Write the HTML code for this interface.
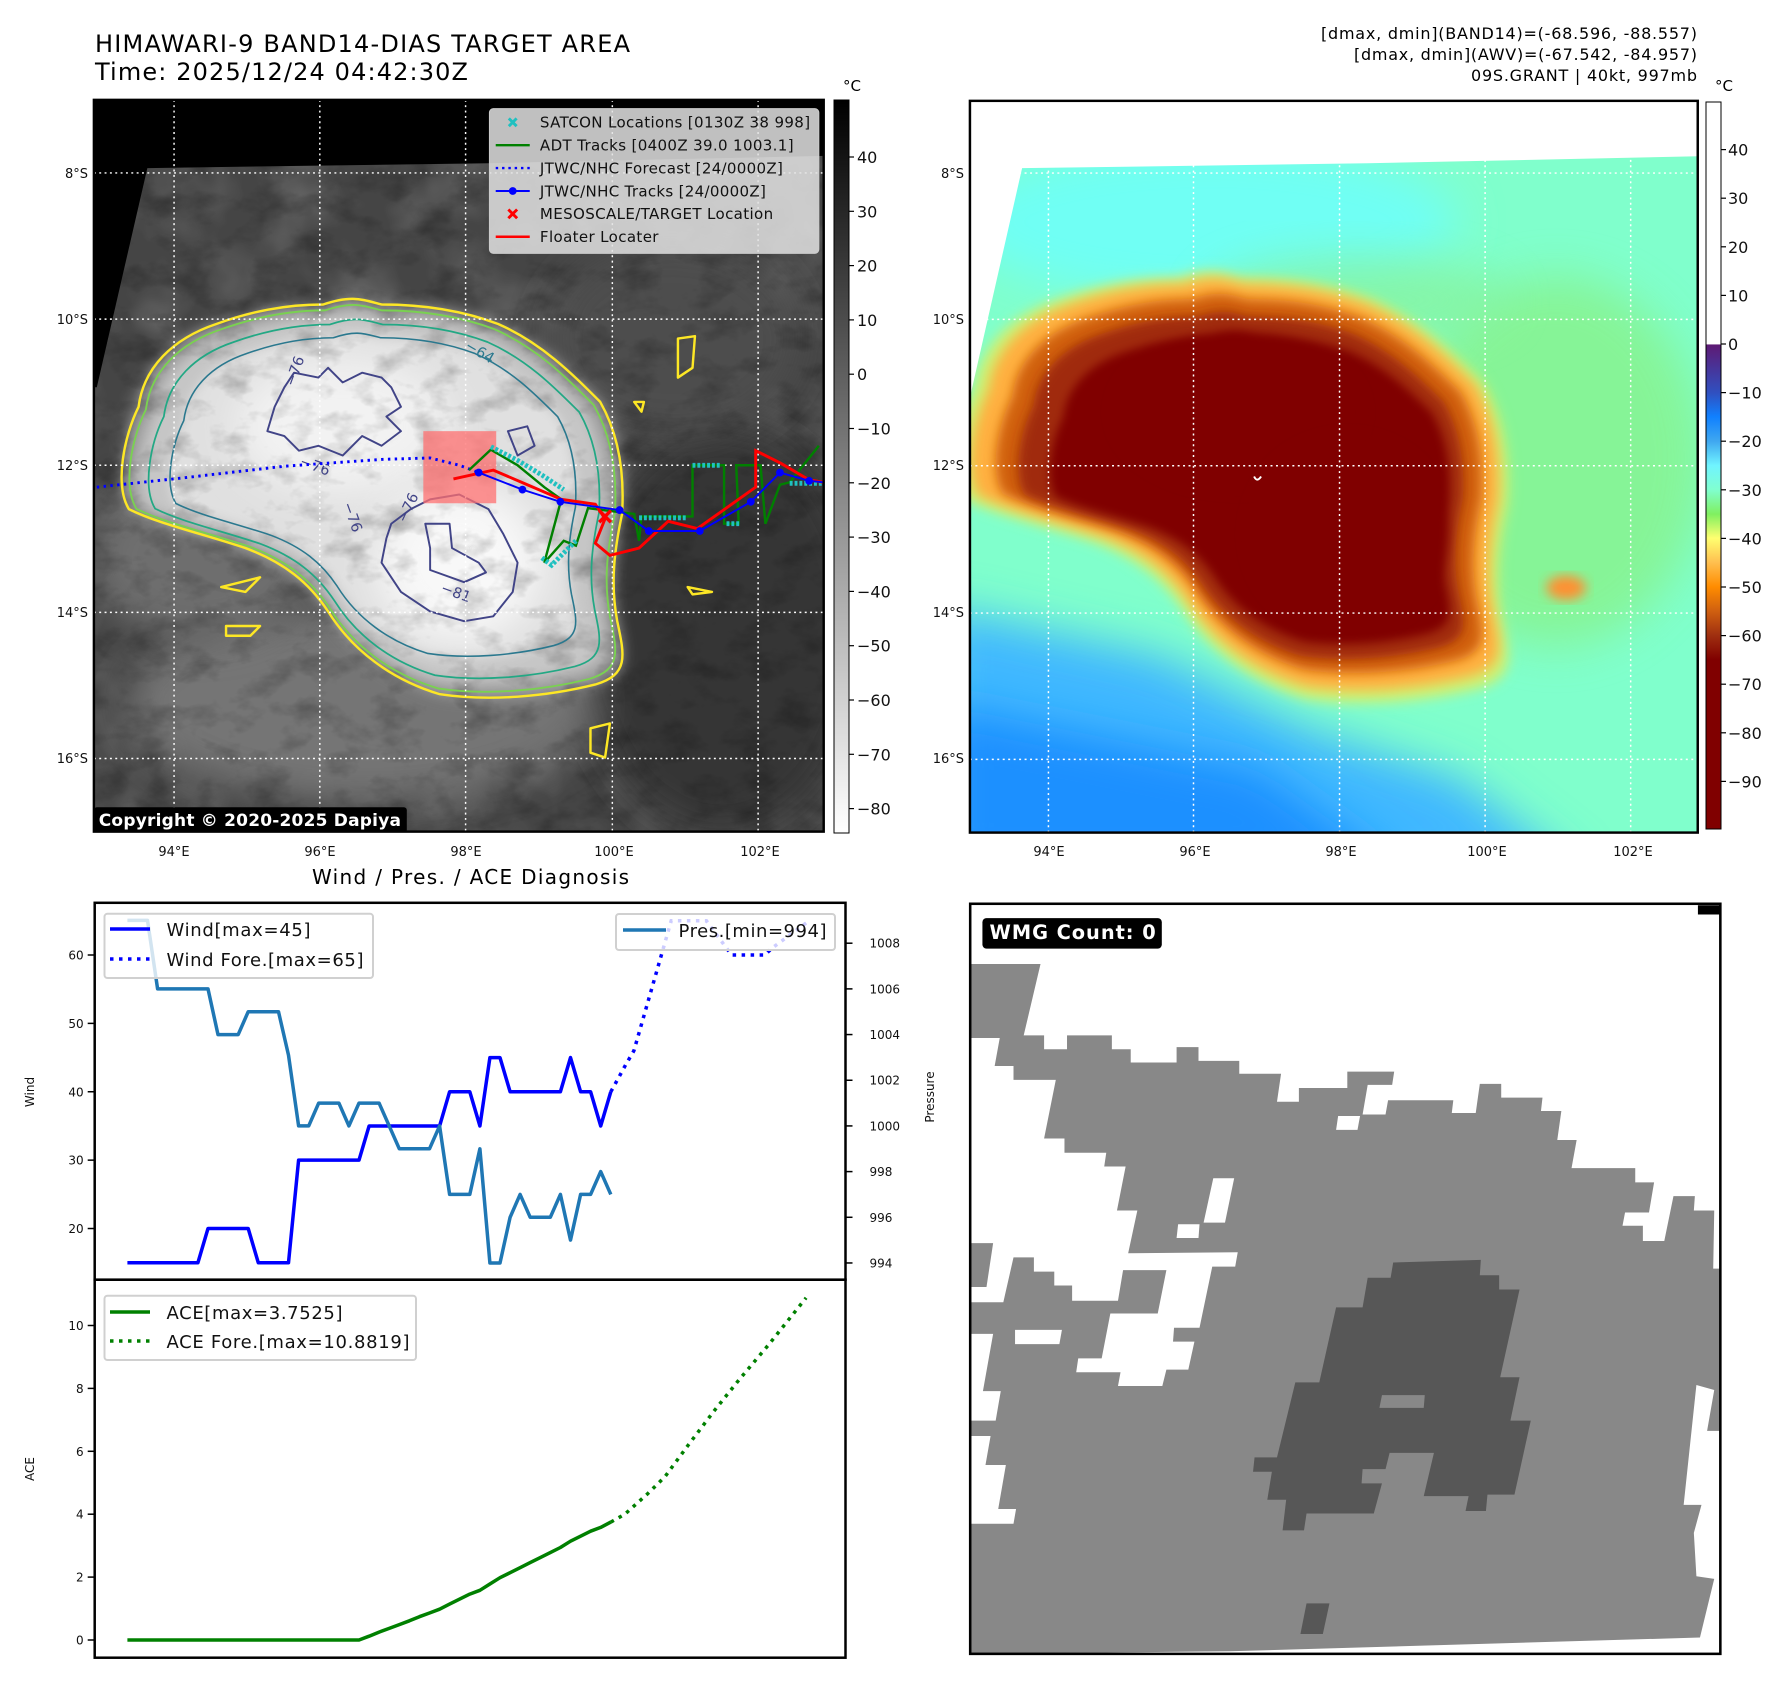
<!DOCTYPE html>
<html><head><meta charset="utf-8">
<style>
html,body{margin:0;padding:0;background:#fff;}
svg text{font-family:"DejaVu Sans","Liberation Sans",sans-serif;}
</style></head>
<body>
<svg id="root" width="1788" height="1690" viewBox="0 0 1788 1690" xmlns="http://www.w3.org/2000/svg">
<rect width="1788" height="1690" fill="#fff"/>

<!-- Titles -->
<text x="95" y="52" font-size="24" textLength="535">HIMAWARI-9 BAND14-DIAS TARGET AREA</text>
<text x="95" y="80" font-size="24" textLength="373">Time: 2025/12/24 04:42:30Z</text>
<g font-size="16" text-anchor="end">
<text x="1697" y="39" textLength="376">[dmax, dmin](BAND14)=(-68.596, -88.557)</text>
<text x="1697" y="60" textLength="343">[dmax, dmin](AWV)=(-67.542, -84.957)</text>
<text x="1697" y="81" textLength="226">09S.GRANT | 40kt, 997mb</text>
</g>

<!-- ============ LEFT MAP ============ -->
<svg x="90" y="95" width="758" height="760" viewBox="0 0 1560 1560" preserveAspectRatio="none">
<defs>
<clipPath id="lclip"><rect x="8" y="10" width="1502" height="1502"/></clipPath>
<filter id="b20" x="-30%" y="-30%" width="160%" height="160%"><feGaussianBlur stdDeviation="14"/></filter>
<filter id="b40" x="-40%" y="-40%" width="180%" height="180%"><feGaussianBlur stdDeviation="40"/></filter>
<filter id="noise"><feTurbulence type="fractalNoise" baseFrequency="0.008" numOctaves="3" seed="4"/><feColorMatrix type="matrix" values="0 0 0 0 1  0 0 0 0 1  0 0 0 0 1  0.9 0 0 0 -0.35"/></filter>
<filter id="dnoise"><feTurbulence type="fractalNoise" baseFrequency="0.012 0.02" numOctaves="4" seed="9"/><feColorMatrix type="matrix" values="0 0 0 0 0  0 0 0 0 0  0 0 0 0 0  -1.6 0 0 0 0.85"/></filter>
<path id="cY" d="M100,640 C110,560 170,500 260,470 C330,445 400,430 480,430 C540,410 560,420 600,430 C680,430 760,440 840,470 C930,510 990,570 1050,630 C1090,700 1100,780 1095,860 C1080,930 1070,1000 1085,1080 C1100,1150 1110,1190 1040,1210 C940,1235 820,1245 720,1230 C620,1200 540,1140 490,1060 C450,1000 400,960 320,930 C230,900 140,880 80,850 C50,800 70,700 100,640 Z"/>
</defs>
<g clip-path="url(#lclip)">
<rect x="0" y="0" width="1560" height="1560" fill="#454545"/>
<rect x="0" y="0" width="1560" height="1560" filter="url(#noise)" opacity="0.35"/>
<ellipse cx="1300" cy="1100" rx="300" ry="420" fill="#363636" filter="url(#b40)"/>
<ellipse cx="1200" cy="500" rx="260" ry="200" fill="#4e4e4e" filter="url(#b40)"/>
<ellipse cx="560" cy="1250" rx="480" ry="200" fill="#747474" filter="url(#b40)"/>
<ellipse cx="230" cy="950" rx="230" ry="170" fill="#6e6e6e" filter="url(#b40)"/>
<use href="#cY" fill="#a0a0a0" filter="url(#b20)"/>
<use href="#cY" fill="#c6c6c6" filter="url(#b20)" transform="translate(40,56) scale(0.93)"/>
<use href="#cY" fill="#e0e0e0" filter="url(#b20)" transform="translate(112,150) scale(0.81)"/>
<ellipse cx="520" cy="680" rx="220" ry="140" fill="#f2f2f2" filter="url(#b40)"/>
<ellipse cx="760" cy="960" rx="170" ry="160" fill="#f8f8f8" filter="url(#b40)"/>
<rect x="0" y="0" width="1560" height="1560" filter="url(#dnoise)" opacity="0.35"/>
<polygon points="0,0 1560,0 1560,124 820,140 118,150 14,600 0,600" fill="#000"/>
<g fill="none" stroke-linejoin="round">
<use href="#cY" stroke="#fde725" stroke-width="5"/>
<use href="#cY" stroke="#7ad151" stroke-width="4" transform="translate(18,25) scale(0.97)"/>
<use href="#cY" stroke="#22a884" stroke-width="4" transform="translate(62,84) scale(0.9)"/>
<use href="#cY" stroke="#2a788e" stroke-width="4" transform="translate(112,150) scale(0.81)"/>
<path d="M365,690 L380,640 L400,600 L420,570 L470,580 L490,560 L520,590 L560,570 L600,580 L620,600 L640,640 L610,660 L640,690 L600,720 L560,700 L520,740 L470,720 L430,730 L400,700 Z" stroke="#414487" stroke-width="4"/>
<path d="M620,880 L660,850 L700,830 L760,820 L820,850 L850,900 L880,960 L870,1020 L830,1070 L770,1080 L700,1060 L640,1020 L600,960 L610,910 Z" stroke="#414487" stroke-width="4"/>
<path d="M690,880 L740,880 L745,930 L800,960 L815,980 L770,1000 L700,975 L700,930 Z" stroke="#414487" stroke-width="4"/>
<path d="M860,690 L900,680 L915,720 L880,740 Z" stroke="#414487" stroke-width="4"/>
<path d="M1210,500 L1245,495 L1240,560 L1210,580 Z" stroke="#fde725" stroke-width="5"/>
<path d="M1120,630 L1140,630 L1135,650 Z" stroke="#fde725" stroke-width="5"/>
<path d="M1230,1010 L1280,1020 L1240,1025 Z" stroke="#fde725" stroke-width="5"/>
<path d="M1030,1300 L1070,1290 L1060,1360 L1030,1350 Z" stroke="#fde725" stroke-width="5"/>
<path d="M270,1010 L350,990 L320,1020 Z" stroke="#fde725" stroke-width="5"/>
<path d="M280,1090 L350,1090 L330,1110 L280,1110 Z" stroke="#fde725" stroke-width="5"/>
</g>
<g font-size="30" fill="#414487">
<text x="770" y="520" fill="#2a788e" transform="rotate(30 770 520)">−64</text>
<text x="420" y="600" transform="rotate(-70 420 600)">−76</text>
<text x="430" y="760" transform="rotate(20 430 760)">−76</text>
<text x="520" y="840" transform="rotate(70 520 840)">−76</text>
<text x="650" y="880" transform="rotate(-65 650 880)">−76</text>
<text x="720" y="1020" transform="rotate(20 720 1020)">−81</text>
</g>
<g stroke="#fff" stroke-width="3" stroke-dasharray="4,7">
<line x1="173" y1="10" x2="173" y2="1512"/><line x1="473" y1="10" x2="473" y2="1512"/><line x1="773" y1="10" x2="773" y2="1512"/><line x1="1075" y1="10" x2="1075" y2="1512"/><line x1="1375" y1="10" x2="1375" y2="1512"/>
<line x1="8" y1="160" x2="1510" y2="160"/><line x1="8" y1="460" x2="1510" y2="460"/><line x1="8" y1="760" x2="1510" y2="760"/><line x1="8" y1="1062" x2="1510" y2="1062"/><line x1="8" y1="1362" x2="1510" y2="1362"/>
</g>
<rect x="686" y="690" width="150" height="148" fill="#ff7070" opacity="0.75"/>
<polyline points="14,805 200,785 400,762 600,748 700,745 760,760 800,775" fill="none" stroke="#0000ff" stroke-width="6" stroke-dasharray="5,9"/>
<polyline points="780,770 825,728 880,760 935,805 970,830 935,960 975,915 1000,925 1025,848 1120,860 1130,915 1135,865 1240,865 1240,760 1305,760 1305,880 1335,880 1330,760 1380,760 1390,880 1420,800 1440,795 1500,720" fill="none" stroke="#008000" stroke-width="5"/>
<g stroke="#20c0c0" stroke-width="5">
<polyline points="825,722 880,750 930,780 975,810" fill="none" stroke-dasharray="6,4" stroke-width="10"/>
<polyline points="1130,868 1230,868" fill="none" stroke-dasharray="6,4" stroke-width="10"/>
<polyline points="1240,760 1300,760" fill="none" stroke-dasharray="6,4" stroke-width="10"/>
<polyline points="1310,880 1340,880" fill="none" stroke-dasharray="6,4" stroke-width="10"/>
<polyline points="1440,797 1510,797" fill="none" stroke-dasharray="6,4" stroke-width="10"/>
<polyline points="930,950 950,965 1000,915" fill="none" stroke-dasharray="6,4" stroke-width="10"/>
</g>
<polyline points="748,788 830,770 900,800 970,830 1040,840 1060,870 1040,920 1070,945 1130,930 1190,875 1250,890 1370,805 1370,730 1420,755 1480,790 1510,795" fill="none" stroke="#ff0000" stroke-width="6"/>
<polyline points="800,775 890,810 968,835 1090,852 1150,895 1255,895 1360,835 1420,775 1480,792 1510,795" fill="none" stroke="#0000ff" stroke-width="4"/>
<g fill="#0000ff"><circle cx="800" cy="775" r="8"/><circle cx="890" cy="810" r="8"/><circle cx="968" cy="835" r="8"/><circle cx="1090" cy="852" r="8"/><circle cx="1150" cy="895" r="8"/><circle cx="1255" cy="895" r="8"/><circle cx="1360" cy="835" r="8"/><circle cx="1420" cy="775" r="8"/><circle cx="1480" cy="792" r="8"/></g>
<g stroke="#ff0000" stroke-width="7"><line x1="1048" y1="853" x2="1072" y2="877"/><line x1="1072" y1="853" x2="1048" y2="877"/></g>
<g>
<rect x="822" y="28" width="678" height="297" rx="8" fill="#e2e2e2" fill-opacity="0.85" stroke="#cccccc" stroke-width="2"/>
<g stroke="#20c0c0" stroke-width="6"><line x1="862" y1="48" x2="878" y2="64"/><line x1="878" y1="48" x2="862" y2="64"/></g>
<line x1="835" y1="103" x2="905" y2="103" stroke="#008000" stroke-width="5"/>
<line x1="835" y1="150" x2="905" y2="150" stroke="#0000ff" stroke-width="5" stroke-dasharray="5,8"/>
<line x1="835" y1="197" x2="905" y2="197" stroke="#0000ff" stroke-width="4"/><circle cx="870" cy="197" r="8" fill="#0000ff"/>
<g stroke="#ff0000" stroke-width="6"><line x1="861" y1="235" x2="879" y2="253"/><line x1="879" y1="235" x2="861" y2="253"/></g>
<line x1="835" y1="291" x2="905" y2="291" stroke="#ff0000" stroke-width="5"/>
<g font-size="31" fill="#111">
<text x="926" y="67" textLength="556">SATCON Locations [0130Z 38 998]</text>
<text x="926" y="114" textLength="522">ADT Tracks [0400Z 39.0 1003.1]</text>
<text x="926" y="161" textLength="500">JTWC/NHC Forecast [24/0000Z]</text>
<text x="926" y="208" textLength="465">JTWC/NHC Tracks [24/0000Z]</text>
<text x="926" y="255" textLength="480">MESOSCALE/TARGET Location</text>
<text x="926" y="302" textLength="244">Floater Locater</text>
</g>
</g>
<rect x="8" y="1462" width="644" height="55" rx="6" fill="#000"/>
<text x="18" y="1500" font-size="35" font-weight="bold" fill="#fff" textLength="622">Copyright © 2020-2025 Dapiya</text>
</g>
<rect x="8" y="10" width="1502" height="1502" fill="none" stroke="#000" stroke-width="5"/>
</svg>

<!-- colorbars -->
<defs>
<linearGradient id="gbar" x1="0" y1="0" x2="0" y2="1"><stop offset="0" stop-color="#000"/><stop offset="1" stop-color="#fff"/></linearGradient>
<linearGradient id="cbar" x1="0" y1="0" x2="0" y2="1">
<stop offset="0" stop-color="#fff"/><stop offset="0.333" stop-color="#fff"/><stop offset="0.334" stop-color="#5e1a74"/><stop offset="0.4" stop-color="#3050c0"/><stop offset="0.433" stop-color="#1080ff"/><stop offset="0.467" stop-color="#40a8f0"/><stop offset="0.5" stop-color="#70f4ff"/><stop offset="0.533" stop-color="#80ffd0"/><stop offset="0.567" stop-color="#80f060"/><stop offset="0.6" stop-color="#ffff70"/><stop offset="0.633" stop-color="#ffc050"/><stop offset="0.667" stop-color="#ff8c00"/><stop offset="0.7" stop-color="#d06010"/><stop offset="0.733" stop-color="#a03010"/><stop offset="0.767" stop-color="#800000"/><stop offset="1" stop-color="#800000"/>
</linearGradient>
</defs>
<rect x="834" y="100" width="15" height="733" fill="url(#gbar)" stroke="#000" stroke-width="1"/>
<text x="843" y="91" font-size="15">°C</text>
<g id="lcbticks" font-size="16"></g>
<rect x="1706" y="102" width="15" height="727" fill="url(#cbar)" stroke="#000" stroke-width="1"/>
<text x="1715" y="91" font-size="15">°C</text>
<g id="rcbticks" font-size="16"></g>

<!-- map axis labels -->
<g font-size="13" fill="#111">
<g text-anchor="end"><text x="88" y="178">8°S</text><text x="88" y="324">10°S</text><text x="88" y="470">12°S</text><text x="88" y="617">14°S</text><text x="88" y="763">16°S</text>
<text x="964" y="178">8°S</text><text x="964" y="324">10°S</text><text x="964" y="470">12°S</text><text x="964" y="617">14°S</text><text x="964" y="763">16°S</text></g>
<g text-anchor="middle"><text x="174" y="856">94°E</text><text x="320" y="856">96°E</text><text x="466" y="856">98°E</text><text x="614" y="856">100°E</text><text x="760" y="856">102°E</text>
<text x="1049" y="856">94°E</text><text x="1195" y="856">96°E</text><text x="1341" y="856">98°E</text><text x="1487" y="856">100°E</text><text x="1633" y="856">102°E</text></g>
</g>

<!-- ============ RIGHT MAP ============ -->
<svg x="960" y="95" width="775" height="761" viewBox="0 0 1560 1560" preserveAspectRatio="none">
<defs>
<clipPath id="rclip"><rect x="20" y="12" width="1465" height="1500"/></clipPath>
<filter id="rb12" x="-20%" y="-20%" width="140%" height="140%"><feGaussianBlur stdDeviation="12"/></filter>
<filter id="rb40" x="-40%" y="-40%" width="180%" height="180%"><feGaussianBlur stdDeviation="45"/></filter>
<path id="rY" d="M100,640 C110,560 170,500 260,470 C330,445 400,430 480,430 C540,410 560,420 600,430 C680,430 760,440 840,470 C930,510 990,570 1050,630 C1090,700 1100,780 1095,860 C1080,930 1070,1000 1085,1080 C1100,1150 1110,1190 1040,1210 C940,1235 820,1245 720,1230 C620,1200 540,1140 490,1060 C450,1000 400,960 320,930 C230,900 140,880 80,850 C50,800 70,700 100,640 Z"/>
</defs>
<g clip-path="url(#rclip)">
<rect width="1560" height="1560" fill="#80ffcc"/>
<ellipse cx="500" cy="260" rx="500" ry="160" fill="#70fff4" filter="url(#rb40)"/>
<ellipse cx="1200" cy="750" rx="300" ry="380" fill="#88f28a" filter="url(#rb40)" opacity="0.8"/>
<ellipse cx="800" cy="420" rx="300" ry="90" fill="#88f29a" filter="url(#rb40)" opacity="0.7"/>
<polygon points="-40,1050 400,1150 700,1300 1000,1400 1250,1600 -40,1600" fill="#40b8ff" filter="url(#rb40)"/>
<polygon points="-40,1250 600,1380 900,1600 -40,1600" fill="#1e90ff" filter="url(#rb40)"/>
<g transform="translate(-20,-30)">
<use href="#rY" fill="#d0f070" filter="url(#rb12)" transform="translate(-60,-60) scale(1.08)"/>
<use href="#rY" fill="#ffb040" filter="url(#rb12)" transform="translate(-25,-25) scale(1.03)"/>
<use href="#rY" fill="#d06010" filter="url(#rb12)" transform="translate(30,40) scale(0.95)"/>
<use href="#rY" fill="#a02c08" filter="url(#rb12)" transform="translate(80,110) scale(0.87)"/>
<use href="#rY" fill="#800000" filter="url(#rb12)" transform="translate(150,190) scale(0.78)"/>
</g>
<ellipse cx="560" cy="650" rx="250" ry="160" fill="#800000" filter="url(#rb12)"/>
<ellipse cx="780" cy="900" rx="200" ry="200" fill="#800000" filter="url(#rb12)"/>
<ellipse cx="1220" cy="1010" rx="40" ry="25" fill="#ff9030" filter="url(#rb12)"/>
<path d="M592,782 Q598,795 606,782" fill="none" stroke="#fff" stroke-width="4"/>
<polygon points="0,0 1560,0 1560,124 820,140 125,150 20,620 0,620" fill="#fff"/>
<g stroke="#fff" stroke-width="3" stroke-dasharray="4,7">
<line x1="178" y1="12" x2="178" y2="1512"/><line x1="470" y1="12" x2="470" y2="1512"/><line x1="764" y1="12" x2="764" y2="1512"/><line x1="1057" y1="12" x2="1057" y2="1512"/><line x1="1350" y1="12" x2="1350" y2="1512"/>
<line x1="20" y1="160" x2="1485" y2="160"/><line x1="20" y1="460" x2="1485" y2="460"/><line x1="20" y1="760" x2="1485" y2="760"/><line x1="20" y1="1062" x2="1485" y2="1062"/><line x1="20" y1="1362" x2="1485" y2="1362"/>
</g>
</g>
<rect x="20" y="12" width="1465" height="1500" fill="none" stroke="#000" stroke-width="5"/>
</svg>

<!-- ============ WMG PANEL ============ -->
<svg x="960" y="890" width="795" height="796" viewBox="0 0 1560 1560" preserveAspectRatio="none">
<rect x="20" y="27" width="1472" height="1470" fill="#fff"/>
<polygon fill="#888" points="20,145 158,145 125,285 165,285 165,312 210,312 210,285 298,285 298,312 335,312 335,338 425,338 425,308 468,308 468,335 548,335 548,360 630,360 622,415 665,415 665,388 760,388 760,356 852,356 848,382 800,382 790,440 835,440 840,412 968,412 965,437 1012,437 1020,380 1062,380 1062,407 1143,407 1140,433 1180,433 1172,490 1210,490 1200,545 1325,545 1325,573 1362,573 1352,632 1305,632 1300,658 1340,658 1340,688 1382,688 1400,600 1442,600 1440,628 1480,628 1478,742 1492,742 1492,1060 1466,1060 1480,980 1445,970 1420,1205 1455,1205 1440,1260 1445,1345 1480,1350 1452,1465 530,1492 20,1497"/>
<polygon fill="#fff" points="20,290 78,290 68,345 105,345 105,372 188,372 165,487 205,487 205,515 287,515 283,542 325,542 308,628 348,628 330,712 545,710 540,738 495,738 470,858 420,858 418,885 460,885 448,940 405,940 397,972 310,972 315,945 228,945 232,918 278,918 295,830 388,830 405,745 320,745 310,805 220,805 220,775 185,775 185,748 145,748 145,720 105,720 85,808 20,808"/>
<polygon fill="#888" points="20,692 65,692 52,778 20,778"/>
<polygon fill="#fff" points="108,862 200,862 195,890 108,890"/>
<polygon fill="#fff" points="20,870 65,870 45,982 80,982 70,1040 20,1040"/>
<polygon fill="#fff" points="20,1070 60,1070 50,1127 90,1127 75,1213 110,1213 105,1242 20,1242"/>
<polygon fill="#fff" points="428,655 470,655 468,682 425,682"/>
<polygon fill="#fff" points="497,565 538,565 520,652 478,652"/>
<polygon fill="#fff" points="742,443 785,443 780,470 738,470"/>
<polygon fill="#575757" points="850,730 1022,725 1020,755 1058,755 1058,783 1098,783 1060,955 1098,955 1080,1040 1120,1040 1088,1185 1035,1185 1032,1217 992,1217 998,1188 910,1188 930,1103 843,1103 835,1135 790,1135 788,1163 828,1163 812,1222 680,1222 675,1255 633,1255 640,1195 603,1195 612,1140 575,1140 578,1112 622,1112 658,965 705,965 738,818 790,818 800,760 845,760"/>
<polygon fill="#888" points="828,990 912,990 910,1015 823,1015"/>
<polygon fill="#575757" points="680,1398 725,1398 712,1458 668,1458"/>
<polygon fill="#000" points="1448,30 1492,30 1492,48 1448,48"/>
<rect x="20" y="27" width="1472" height="1470" fill="none" stroke="#000" stroke-width="5"/>
<rect x="44" y="55" width="352" height="60" rx="8" fill="#000"/>
<text x="58" y="96" font-size="38" font-weight="bold" fill="#fff" textLength="326">WMG Count: 0</text>
</svg>

<!-- ============ WIND / PRES / ACE ============ -->
<text x="312" y="884" font-size="20" textLength="317">Wind / Pres. / ACE Diagnosis</text>
<g id="chart"></g>
</svg>

<script>
// ---- data ----
const windObs = [15,15,15,15,15,15,15,15,20,20,20,20,20,15,15,15,15,30,30,30,30,30,30,30,35,35,35,35,35,35,35,35,40,40,40,35,45,45,40,40,40,40,40,40,45,40,40,35,40];
const presObs = [1009,1009,1009,1006,1006,1006,1006,1006,1006,1004,1004,1004,1005,1005,1005,1005,1003.1,1000,1000,1001,1001,1001,1000,1001,1001,1001,1000,999,999,999,999,1000,997,997,997,999,994,994,996,997,996,996,996,997,995,997,997,998,997];
const windFcIdx = [48,49.5,50.3,54,57.5,60,63.3,64,67.7];
const windFc = [40,44,46,65,65,60,60,61,65];
const aceObs = [0,0,0,0,0,0,0,0,0,0,0,0,0,0,0,0,0,0,0,0,0,0,0,0,0.12,0.25,0.37,0.49,0.61,0.74,0.86,0.98,1.14,1.30,1.46,1.58,1.78,1.98,2.14,2.30,2.46,2.62,2.78,2.94,3.14,3.30,3.46,3.58,3.75];
const aceFcIdx = [48,49.4,51.7,53.4,55.7,58.3,60.8,63.7,67.4];
const aceFc = [3.75,4.0,4.66,5.2,6.2,7.3,8.3,9.4,10.88];
const windTicks = [20,30,40,50,60];
const presTicks = [994,996,998,1000,1002,1004,1006,1008];
const aceTicks = [0,2,4,6,8,10];
const irTicks = [40,30,20,10,0,-10,-20,-30,-40,-50,-60,-70,-80];
const awvTicks = [40,30,20,10,0,-10,-20,-30,-40,-50,-60,-70,-80,-90];

const NS = "http://www.w3.org/2000/svg";
const xS = i => 127.4 + i * 10.07;
const yW = v => 955.0 + (60 - v) * 6.838;
const yP = p => 943.2 + (1008 - p) * 22.84;
const yA = a => 1640.0 - a * 31.45;
const L = 94.7, R = 845.5, T = 902.8, M = 1279.7, B = 1657.7;

function mk(tag, attrs, parent) {
  const e = document.createElementNS(NS, tag);
  for (const k in attrs) e.setAttribute(k, attrs[k]);
  parent.appendChild(e);
  return e;
}
function txt(parent, x, y, s, size, anchor) {
  const t = mk('text', {x: x, y: y, 'font-size': size, 'text-anchor': anchor || 'start', fill: '#111'}, parent);
  t.textContent = s;
  return t;
}
function pts(idx, vals, yf) { return vals.map((v, k) => xS(idx ? idx[k] : k).toFixed(1) + ',' + yf(v).toFixed(1)).join(' '); }

const chart = document.getElementById('chart');
let f1 = mk('rect', {x: L, y: T, width: R - L, height: M - T, fill: 'none', stroke: '#000', 'stroke-width': 2.5}, chart);


let f2 = mk('rect', {x: L, y: M, width: R - L, height: B - M, fill: 'none', stroke: '#000', 'stroke-width': 2.5}, chart);



windTicks.forEach(v => {
  const g = mk('g', {}, chart);
  
  
  mk('line', {x1: L - 7, x2: L, y1: yW(v), y2: yW(v), stroke: '#000', 'stroke-width': 1.5}, g);
  txt(g, L - 11, yW(v) + 4.5, String(v), 12, 'end');
});
presTicks.forEach(v => {
  const g = mk('g', {}, chart);
  
  
  mk('line', {x1: R, x2: R + 7, y1: yP(v), y2: yP(v), stroke: '#000', 'stroke-width': 1.5}, g);
  txt(g, R + 24, yP(v) + 4.5, String(v), 12, 'start');
});
aceTicks.forEach(v => {
  const g = mk('g', {}, chart);
  
  
  mk('line', {x1: L - 7, x2: L, y1: yA(v), y2: yA(v), stroke: '#000', 'stroke-width': 1.5}, g);
  txt(g, L - 11, yA(v) + 4.5, String(v), 12, 'end');
});
let wl = txt(chart, 34, 1092, 'Wind', 12, 'middle');
wl.setAttribute('transform', 'rotate(-90 34 1092)');


let pl = txt(chart, 934, 1097, 'Pressure', 12, 'middle');
pl.setAttribute('transform', 'rotate(-90 934 1097)');


let al = txt(chart, 34, 1469, 'ACE', 12, 'middle');
al.setAttribute('transform', 'rotate(-90 34 1469)');



let wfc = mk('polyline', {points: pts(windFcIdx, windFc, yW), fill: 'none', stroke: '#0000ff', 'stroke-width': 3.5, 'stroke-dasharray': '3.5,5.5'}, chart);


let wob = mk('polyline', {points: pts(null, windObs, yW), fill: 'none', stroke: '#0000ff', 'stroke-width': 3.5, 'stroke-linejoin': 'round'}, chart);


let pob = mk('polyline', {points: pts(null, presObs, yP), fill: 'none', stroke: '#1f77b4', 'stroke-width': 3.5, 'stroke-linejoin': 'round'}, chart);


let afc = mk('polyline', {points: pts(aceFcIdx, aceFc, yA), fill: 'none', stroke: '#008000', 'stroke-width': 3.5, 'stroke-dasharray': '3.5,5.5'}, chart);


let aob = mk('polyline', {points: pts(null, aceObs, yA), fill: 'none', stroke: '#008000', 'stroke-width': 3.5, 'stroke-linejoin': 'round'}, chart);



function legendBox(x, y, w, h, name) {
  const g = mk('g', {}, chart);
  
  
  mk('rect', {x: x, y: y, width: w, height: h, rx: 3, fill: '#fff', 'fill-opacity': 0.8, stroke: '#d0d0d0', 'stroke-width': 2}, g);
  return g;
}
let lg1 = legendBox(104.5, 913.8, 268.5, 64.2, 'wind-legend');
mk('line', {x1: 110, x2: 150, y1: 929, y2: 929, stroke: '#0000ff', 'stroke-width': 3.5}, lg1);
mk('line', {x1: 110, x2: 150, y1: 959, y2: 959, stroke: '#0000ff', 'stroke-width': 3.5, 'stroke-dasharray': '3.5,5.5'}, lg1);
txt(lg1, 166.5, 936, 'Wind[max=45]', 18).setAttribute('textLength', 144);
txt(lg1, 166.5, 966, 'Wind Fore.[max=65]', 18).setAttribute('textLength', 197);
let lg2 = legendBox(616, 914, 219, 36, 'pressure-legend');
mk('line', {x1: 623, x2: 666, y1: 930, y2: 930, stroke: '#1f77b4', 'stroke-width': 3.5}, lg2);
txt(lg2, 678.5, 937, 'Pres.[min=994]', 18).setAttribute('textLength', 148);
let lg3 = legendBox(104.5, 1295.7, 311.5, 64.3, 'ace-legend');
mk('line', {x1: 110, x2: 150, y1: 1312, y2: 1312, stroke: '#008000', 'stroke-width': 3.5}, lg3);
mk('line', {x1: 110, x2: 150, y1: 1341, y2: 1341, stroke: '#008000', 'stroke-width': 3.5, 'stroke-dasharray': '3.5,5.5'}, lg3);
txt(lg3, 166.5, 1319, 'ACE[max=3.7525]', 18).setAttribute('textLength', 176);
txt(lg3, 166.5, 1348, 'ACE Fore.[max=10.8819]', 18).setAttribute('textLength', 243);

const lcb = document.getElementById('lcbticks');
irTicks.forEach(v => {
  const y = 157 + (40 - v) * 5.43;
  const t = mk('g', {}, lcb);
  
  
  mk('line', {x1: 849, x2: 854, y1: y, y2: y, stroke: '#000', 'stroke-width': 1.2}, t);
  txt(t, 857, y + 6, v < 0 ? '\u2212' + (-v) : String(v), 16);
});
const rcb = document.getElementById('rcbticks');
awvTicks.forEach(v => {
  const y = 344 - v * 4.86;
  const t = mk('g', {}, rcb);
  
  
  mk('line', {x1: 1721, x2: 1726, y1: y, y2: y, stroke: '#000', 'stroke-width': 1.2}, t);
  txt(t, 1728, y + 6, v < 0 ? '\u2212' + (-v) : String(v), 16);
});
</script>
</body></html>
